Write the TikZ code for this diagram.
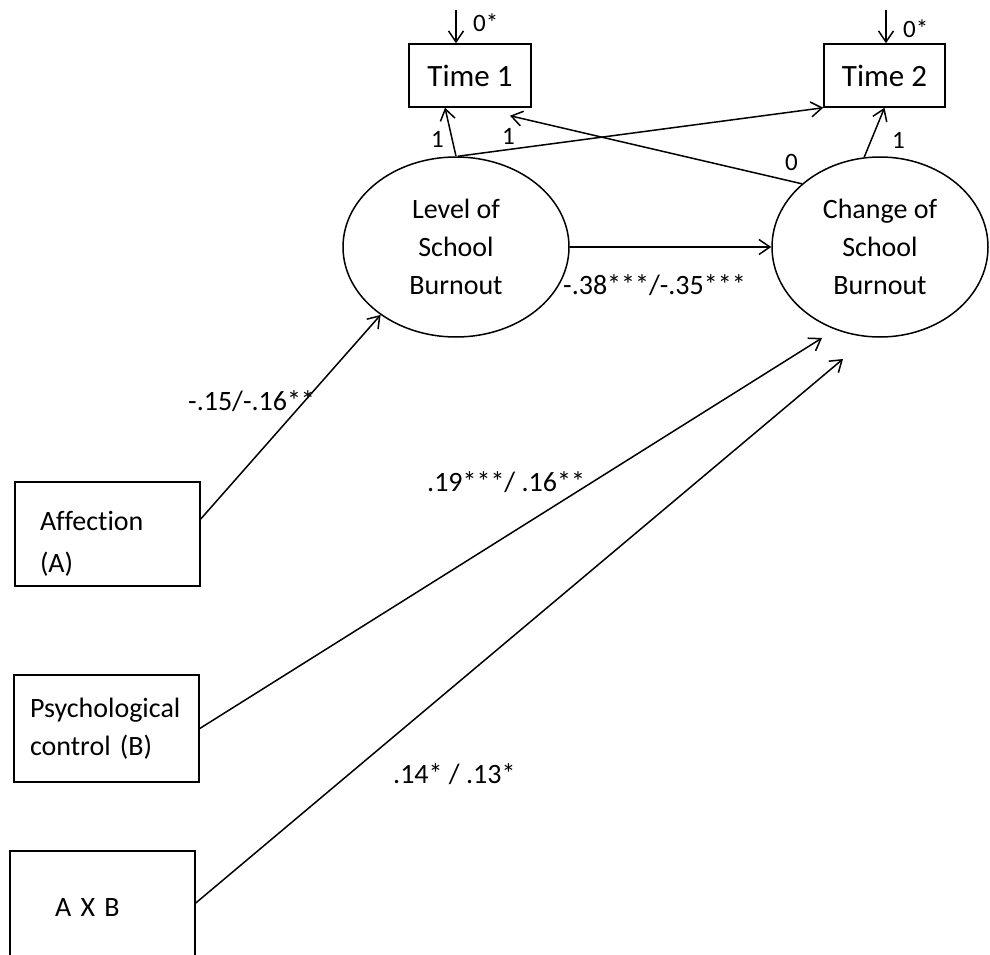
\documentclass[tikz,border=0pt]{standalone}
\usepackage{fontspec}
\setmainfont{Carlito}[Ligatures={NoCommon,NoContextual},Contextuals=NoAlternate]
\usetikzlibrary{arrows.meta,shapes.geometric}
\begin{document}
\begin{tikzpicture}[x=1pt,y=-1pt,
  every node/.style={font=\fontsize{28}{38}\selectfont},
  box/.style={draw,line width=1.5pt,rectangle,inner sep=0pt},
  latent/.style={draw,line width=1.5pt,ellipse,inner sep=0pt,align=center,minimum height=180},
  arr/.style={line width=1.5pt,-{Straight Barb[length=11pt,width=15pt]}},
  coef/.style={font=\fontsize{28}{34}\selectfont,inner sep=0pt,anchor=base west},
  small/.style={font=\fontsize{25}{28}\selectfont,inner sep=0pt,anchor=base west}]
\useasboundingbox (0,0) rectangle (990,955);

% indicator boxes
\node[box,minimum width=122,minimum height=63,font=\fontsize{31}{40}\selectfont] (t1) at (470,75.5) {Time 1};
\node[box,minimum width=121,minimum height=63,font=\fontsize{31}{40}\selectfont] (t2) at (884.5,75.5) {Time 2};

% latent factors
\node[latent,minimum width=226] (lev) at (456,247) {Level of\\School\\Burnout};
\node[latent,minimum width=216] (chg) at (880,247) {Change of\\School\\Burnout};

% predictors
\node[box,inner xsep=25,minimum width=185,minimum height=104,font=\fontsize{28}{40}\selectfont] (aff) at (107.5,534)
  {\makebox[135pt][l]{\raisebox{-9pt}[\height][\depth]{\begin{tabular}{@{}l@{}}Affection\\[2pt](A)\end{tabular}}}};
\node[box,text width=153,inner xsep=16,minimum height=107,align=left,font=\fontsize{28}{38}\selectfont] (psy) at (106.5,728.5) {Psychological\\control (B)};
\node[box,text width=95,inner xsep=45,minimum height=114,align=left] (axb) at (102.5,908) {A X B};

% residual arrows
\coordinate (top1) at (456,10);
\coordinate (top2) at (886,10);
\draw[arr] (top1) -- (top1 |- t1.north);
\draw[arr] (top2) -- (top2 |- t2.north);

% loadings
\draw[arr] (lev.north) -- ([xshift=-25pt]t1.south);
\draw[arr] ([xshift=2pt]lev.north) -- (t2.south west);
\draw[arr] (chg.141) -- ([xshift=40pt,yshift=-8pt]t1.south);
\draw[arr] (chg.100) -- (t2.south);

% structural paths
\draw[arr] (lev.east) -- (chg.west);
\draw[arr] ([yshift=15pt]aff.east) -- (lev.222);
\coordinate (chgB) at (822,338);
\coordinate (chgC) at (843,359);
\draw[arr] (psy.east) -- (chgB);
\draw[arr] ([yshift=5pt]axb.east) -- (chgC);

% labels
\node[small] (r1) at (473,32) {0*};
\node[small] (r2) at (903,38) {0*};
\node[small] (la) at (431,147) {1};
\node[small] (lb) at (502,144) {1};
\node[small] (lc) at (785,170) {0};
\node[small] (ld) at (892,148) {1};
\node[coef] (c1) at (563,294) {-.38***/-.35***};
\node[coef] (c2) at (188,410) {-.15/-.16**};
\node[coef] (c3) at (427,491) {.19***/ .16**};
\node[coef] (c4) at (393,783) {.14* / .13*};
\end{tikzpicture}
\end{document}
